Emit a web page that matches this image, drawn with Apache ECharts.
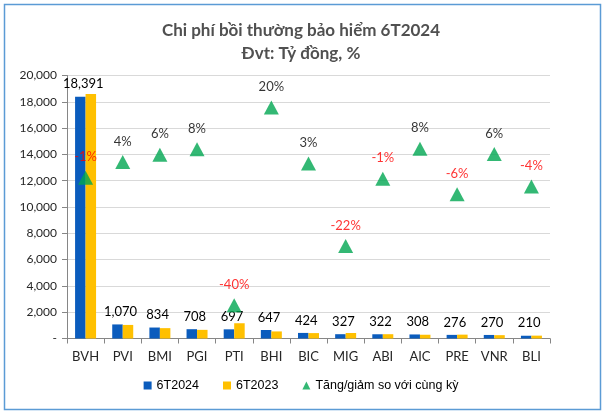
<!DOCTYPE html>
<html>
<head>
<meta charset="utf-8">
<script src="https://cdn.jsdelivr.net/npm/echarts@6/dist/echarts.min.js"></script>
<style>
html,body{margin:0;padding:0;background:#fff;}
#chart{width:602px;height:413px;}
</style>
</head>
<body>
<div id="chart"></div>
<script>
var categories = ['BVH','PVI','BMI','PGI','PTI','BHI','BIC','MIG','ABI','AIC','PRE','VNR','BLI'];
var values2024 = [18391, 1070, 834, 708, 697, 647, 424, 327, 322, 308, 276, 270, 210];
var values2023 = [18596, 1032, 788, 658, 1160, 538, 411, 419, 327, 286, 294, 254, 218];
var changePct = [-1.1, 3.7, 5.9, 7.6, -39.9, 20.3, 3.2, -21.9, -1.4, 7.7, -6.1, 6.1, -3.8];
var yTicks = [0, 2000, 4000, 6000, 8000, 10000, 12000, 14000, 16000, 18000, 20000];

var chart = echarts.init(document.getElementById('chart'));
var calib = 'Lato, "Noto Sans", sans-serif';

function fmtNum(v){
  if (v === 0) return '-';
  return String(Math.round(v)).replace(/\B(?=(\d{3})+(?!\d))/g, ',');
}

chart.setOption({
  animation: false,
  backgroundColor: '#ffffff',
  graphic: [{
    type: 'rect', left: 2, top: 2,
    shape: { width: 596, height: 405 },
    style: { fill: 'none', stroke: '#5b9bd5', lineWidth: 1.5 },
    silent: true
  }],
  title: {
    text: 'Chi phí bồi thường bảo hiểm 6T2024\nĐvt: Tỷ đồng, %',
    left: 'center', top: 14,
    textStyle: { fontFamily: calib, fontWeight: 'bold', fontSize: 17, color: '#505050', lineHeight: 23 }
  },
  legend: {
    bottom: 16, left: 'center',
    itemWidth: 8, itemHeight: 8, itemGap: 24,
    textStyle: { fontFamily: '"Liberation Sans", Arial, sans-serif', fontSize: 12.5, color: '#000' },
    data: [
      { name: '6T2024', icon: 'rect' },
      { name: '6T2023', icon: 'rect' },
      { name: 'Tăng/giảm so với cùng kỳ', icon: 'triangle' }
    ]
  },
  grid: { left: 67, right: 52, top: 75.5, bottom: 74.5 },
  xAxis: {
    type: 'category',
    data: categories,
    axisLine: { lineStyle: { color: '#868686' } },
    axisTick: { show: true, alignWithLabel: false, length: 5, lineStyle: { color: '#868686' } },
    axisLabel: { fontFamily: calib, fontSize: 13, color: '#262626', margin: 12 }
  },
  yAxis: [{
    type: 'value', min: 0, max: 20000, interval: 2000,
    axisLine: { show: true, lineStyle: { color: '#868686' } },
    axisTick: { show: true, length: 5, lineStyle: { color: '#868686' } },
    splitLine: { lineStyle: { color: '#d9d9d9' } },
    axisLabel: {
      fontFamily: calib, fontSize: 12, color: '#262626', margin: 10,
      formatter: function(v){ return yTicks.indexOf(v) >= 0 ? fmtNum(v) : ''; }
    }
  }, {
    type: 'value', min: -50, max: 30, show: false, splitLine: { show: false }
  }],
  series: [{
    name: '6T2024', type: 'bar', data: values2024,
    barWidth: 10.5, barGap: '0%',
    itemStyle: { color: '#0b5cbd' },
    label: {
      show: true, position: 'top', distance: 6, offset: [3, 0],
      fontFamily: calib, fontSize: 13, color: '#000',
      formatter: function(p){ return fmtNum(p.value); }
    }
  }, {
    name: '6T2023', type: 'bar', data: values2023,
    barWidth: 10.5,
    itemStyle: { color: '#ffc000' }
  }, {
    name: 'Tăng/giảm so với cùng kỳ', type: 'scatter', yAxisIndex: 1,
    data: changePct.map(function(v){
      return { value: v, label: { color: v < 0 ? '#ff0000' : '#000000' } };
    }),
    symbol: 'triangle', symbolSize: [15, 14],
    itemStyle: { color: '#00a651' },
    z: 5,
    label: {
      show: true, position: 'top', distance: 7,
      fontFamily: calib, fontSize: 13,
      formatter: function(p){ return Math.round(p.value) + '%'; }
    }
  }]
});
</script>
</body>
</html>
